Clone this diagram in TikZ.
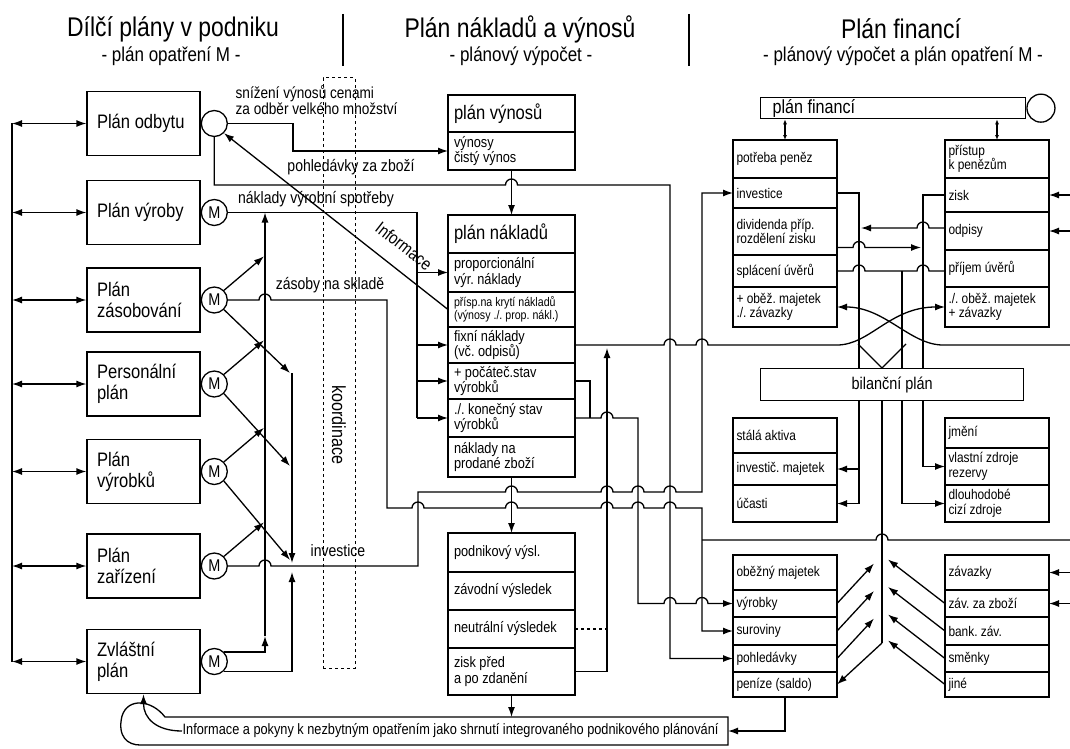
\documentclass[tikz,border=0pt]{standalone}
\usepackage{fontspec}
\setmainfont{Liberation Sans}[FakeStretch=0.85]
\usetikzlibrary{positioning,arrows.meta,calc}
\frenchspacing

\newcommand{\hdfont}{\fontsize{27}{29}\selectfont}
\newcommand{\subhdfont}{\fontsize{20}{22}\selectfont}
\newcommand{\planfont}{\fontsize{19.5}{21}\selectfont}
\newcommand{\mfont}{\fontsize{17}{17}\selectfont}
\newcommand{\boxhdfont}{\fontsize{19.5}{19.5}\selectfont}
\newcommand{\cellfont}{\fontsize{15}{15.5}\selectfont}
\newcommand{\smallcellfont}{\fontsize{12.5}{13.5}\selectfont}
\newcommand{\finfont}{\fontsize{14}{14.5}\selectfont}
\newcommand{\notefont}{\fontsize{16.5}{16}\selectfont}
\newcommand{\infofont}{\fontsize{15}{15}\selectfont}

\begin{document}
\begin{tikzpicture}[x=1pt, y=-1pt, line width=1.3pt,
    >={Latex[length=10pt,width=7pt]},
    plan/.style={draw, minimum width=113pt, minimum height=64pt, text width=93pt, inner xsep=10pt, align=flush left, font=\planfont},
    mcirc/.style={draw, circle, minimum size=26pt, inner sep=0pt, font=\mfont},
    cell/.style={draw, outer sep=0pt, inner ysep=1pt, align=flush left},
    midcell/.style={cell, text width=115pt, inner xsep=6pt, font=\cellfont},
    fincell/.style={cell, text width=97pt, inner xsep=3.5pt, font=\finfont},
    note/.style={inner sep=1pt, font=\notefont},
    hop/.style={insert path={arc[start angle=180,end angle=360,radius=6]}},
    hopl/.style={insert path={arc[start angle=0,end angle=-180,radius=6]}}]
    \useasboundingbox (0,0) rectangle (1070,749);

    % headings
    \node[font=\hdfont] (hPodnik) at (173,29) {Dílčí plány v podniku};
    \node[font=\subhdfont] (sPodnik) at (171,56) {- plán opatření M -};
    \node[font=\hdfont] (hNaklady) at (520,29) {Plán nákladů a výnosů};
    \node[font=\subhdfont] (sNaklady) at (521,56) {- plánový výpočet -};
    \node[font=\hdfont] (hFinance) at (901,29) {Plán financí};
    \node[font=\subhdfont] (sFinance) at (903,56) {- plánový výpočet a plán opatření M -};
    \draw (343,14) -- (343,66);
    \draw (689,14) -- (689,66);

    % coordination strip
    \node[draw, dashed, line width=1pt, minimum width=32pt, minimum height=590pt] (koord) at (339,373) {};
    \node[rotate=-90, font=\fontsize{19}{19}\selectfont] (lblKoord) at (339,425) {koordinace};

    % partial plans
    \node[plan] (odbyt) at (143.5,123.5) {Plán odbytu};
    \node[plan] (vyroby) at (143.5,212.5) {Plán výroby};
    \node[plan] (zasob) at (143.5,300) {Plán\\zásobování};
    \node[plan] (pers) at (143.5,384) {Personální\\plán};
    \node[plan] (vyrobku) at (143.5,471.5) {Plán\\výrobků};
    \node[plan] (zariz) at (143.5,566) {Plán\\zařízení};
    \node[plan] (zvl) at (143.5,661.5) {Zvláštní\\plán};
    \node[mcirc, right=0pt of odbyt] (cOdbyt) {};
    \node[mcirc, right=0pt of vyroby] (mVyroby) {M};
    \node[mcirc, right=0pt of zasob] (mZasob) {M};
    \node[mcirc, right=0pt of pers] (mPers) {M};
    \node[mcirc, right=0pt of vyrobku] (mVyrobku) {M};
    \node[mcirc, right=0pt of zariz] (mZariz) {M};
    \node[mcirc, right=0pt of zvl] (mZvl) {M};

    \coordinate (bus) at (12,0);
    \coordinate (vx) at (265,0);
    \coordinate (dx) at (292,0);
    \coordinate (sp) at (417,0);
    \draw (odbyt.west -| bus) -- (zvl.west -| bus);
    \foreach \p in {odbyt,vyroby,zasob,pers,vyrobku,zariz,zvl}
      \draw[<->] (\p.west -| bus) -- (\p.west);

    % cost and revenue plan
    \node[midcell, font=\boxhdfont, minimum height=37pt, anchor=north west] (pvyn) at (448,95) {plán výnosů};
    \node[midcell, minimum height=38pt, below=0pt of pvyn] (vynosy) {výnosy\\čistý výnos};
    \node[midcell, font=\boxhdfont, minimum height=38pt, anchor=north west] (pnakl) at (448,215) {plán nákladů};
    \node[midcell, minimum height=39pt, below=0pt of pnakl] (prop) {proporcionální\\výr. náklady};
    \node[midcell, font=\smallcellfont, minimum height=35pt, below=0pt of prop] (prisp) {přísp.na krytí nákladů\\(výnosy ./. prop. nákl.)};
    \node[midcell, minimum height=36pt, below=0pt of prisp] (fixni) {fixní náklady\\(vč. odpisů)};
    \node[midcell, minimum height=36pt, below=0pt of fixni] (pocat) {+ počáteč.stav\\výrobků};
    \node[midcell, minimum height=38pt, below=0pt of pocat] (konec) {./. konečný stav\\výrobků};
    \node[midcell, minimum height=40pt, below=0pt of konec] (prodane) {náklady na\\prodané zboží};
    \node[midcell, minimum height=39pt, anchor=north west] (podnik) at (448,533) {podnikový výsl.};
    \node[midcell, minimum height=38pt, below=0pt of podnik] (zavod) {závodní výsledek};
    \node[midcell, minimum height=38pt, below=0pt of zavod] (neutr) {neutrální výsledek};
    \node[midcell, minimum height=47pt, below=0pt of neutr] (zpred) {zisk před\\a po zdanění};

    % financial plan
    \node[draw, minimum width=265pt, minimum height=21pt, inner ysep=0pt, inner xsep=12pt, text width=241pt, align=flush left, font=\fontsize{19}{19}\selectfont, anchor=north west] (pf) at (760,97) {plán financí};
    \node[draw, circle, minimum size=28pt, inner sep=0pt, right=0pt of pf] (cPf) {};
    \node[fincell, minimum height=38pt, anchor=north west] (potreba) at (733,140) {potřeba peněz};
    \node[fincell, minimum height=30pt, below=0pt of potreba] (inv) {investice};
    \node[fincell, minimum height=47pt, below=0pt of inv] (divid) {dividenda příp.\\rozdělení zisku};
    \node[fincell, minimum height=32pt, below=0pt of divid] (splac) {splácení úvěrů};
    \node[fincell, minimum height=40pt, below=0pt of splac] (oPlus) {+ oběž. majetek\\./. závazky};
    \node[fincell, minimum height=38pt, anchor=north west] (pristup) at (945,140) {přístup\\k penězům};
    \node[fincell, minimum height=34pt, below=0pt of pristup] (zisk) {zisk};
    \node[fincell, minimum height=38pt, below=0pt of zisk] (odpisy) {odpisy};
    \node[fincell, minimum height=37pt, below=0pt of odpisy] (prijem) {příjem úvěrů};
    \node[fincell, minimum height=40pt, below=0pt of prijem] (oMinus) {./. oběž. majetek\\+ závazky};

    \node[fincell, minimum height=35pt, anchor=north west] (stala) at (733,418) {stálá aktiva};
    \node[fincell, minimum height=32pt, below=0pt of stala] (invmaj) {investič. majetek};
    \node[fincell, minimum height=37pt, below=0pt of invmaj] (ucast) {účasti};
    \node[fincell, minimum height=30pt, anchor=north west] (jmeni) at (945,418) {jmění};
    \node[fincell, minimum height=37pt, below=0pt of jmeni] (vlast) {vlastní zdroje\\rezervy};
    \node[fincell, minimum height=37pt, below=0pt of vlast] (dlouh) {dlouhodobé\\cizí zdroje};

    \node[fincell, minimum height=35pt, anchor=north west] (obezny) at (733,555) {oběžný majetek};
    \node[fincell, minimum height=27pt, below=0pt of obezny] (vyrobky) {výrobky};
    \node[fincell, minimum height=28pt, below=0pt of vyrobky] (surov) {suroviny};
    \node[fincell, minimum height=27pt, below=0pt of surov] (pohl) {pohledávky};
    \node[fincell, minimum height=25pt, below=0pt of pohl] (penize) {peníze (saldo)};
    \node[fincell, minimum height=35pt, anchor=north west] (zavazky) at (945,555) {závazky};
    \node[fincell, minimum height=27pt, below=0pt of zavazky] (zavzb) {záv. za zboží};
    \node[fincell, minimum height=28pt, below=0pt of zavzb] (bank) {bank. záv.};
    \node[fincell, minimum height=27pt, below=0pt of bank] (smenky) {směnky};
    \node[fincell, minimum height=25pt, below=0pt of smenky] (jine) {jiné};

    % labels on the flows
    \node[note, anchor=north west, align=flush left, font=\fontsize{16}{15}\selectfont] (lblSniz) at (234,84) {snížení výnosů cenami\\za odběr velkého množství};
    \node[note] (lblPohl) at (351,167) {pohledávky za zboží};
    \node[note] (lblSpotr) at (316,199) {náklady výrobní spotřeby};
    \node[note] (lblZasoby) at (330,285) {zásoby na skladě};
    \node[note] (lblInvest) at (338,551) {investice};
    \node[note, rotate=-38, font=\fontsize{17.5}{17.5}\selectfont] (lblInfo) at (404,246) {Informace};

    % flows out of the partial plans
    \draw[->] (cOdbyt.east) -| (293,151) -- (vynosy.west);
    \draw[->] (cOdbyt.south) |- (505.5,185) [hop] -- (670,185) |- (pohl.west);
    \draw[<-] (cOdbyt.south east) -- (prisp.west);
    \draw (mVyroby.east) -| (konec.west -| sp);
    \foreach \c in {prop,fixni,pocat,konec}
      \draw[->] (\c.west -| sp) -- (\c.west);
    \draw[->] (mZvl.north east) -| (265,636);
    \draw[->] (265,636) -- (mVyroby.east -| vx);
    \foreach \m in {mZasob,mPers,mVyrobku,mZariz}
      \draw[->] (\m.north east) -- ++(40,-34);
    \foreach \m/\y in {mZasob/373,mPers/466,mVyrobku/560}
      \draw[->] (\m.south east) -- (290,\y);
    \draw[->] (292,373) -- (292,563);
    \draw[->] (mZvl.south east) -| (292,572);
    \draw[->] (mZariz.east) -- (259,566) [hop] -- (418,566) -- (418,492) -- (505.5,492) [hop]
      -- (601,492) [hop] -- (632,492) [hop] -- (664,492) [hop] -- (702,492) |- (inv.west);
    \draw[->] (mZasob.east) -- (259,300) [hop] -- (387,300) -- (387,508) -- (412,508) [hop]
      -- (505.5,508) [hop] -- (601,508) [hop] -- (632,508) [hop] -- (664,508) [hop] -- (702,508) |- (surov.west);
    \draw (702,540) -- (876,540) [hop] -- (1070,540);

    % inside the cost plan
    \draw[->] (vynosy.south) -- (pnakl.north);
    \draw[->] (prodane.south) -- (podnik.north);
    \draw[->] (zpred.east) -| (607,348);
    \draw[dashed] (neutr.east) -- ++(32,0);
    \draw (pocat.east) -| (590,418);
    \draw[->] (konec.east) -- (601,418) [hop] -- (638,418) -- (638,603.5) -- (664,603.5) [hop]
      -- (696,603.5) [hop] -- (vyrobky.west);
    \draw[->] (fixni.east) -- (664,345) [hop] -- (696,345) [hop] -- (837,345)
      .. controls (870,345) and (890,307) .. (oMinus.west);
    \draw[->] (1070,345) -- (943,345) .. controls (910,345) and (885,307) .. (oPlus.east);

    % inside the financial plan
    \coordinate (xi) at (859,0);
    \coordinate (xb) at (882,0);
    \coordinate (xu) at (902,0);
    \coordinate (xk) at (923,0);
    \coordinate (edge) at (1070,0);
    \draw[<->, >={Latex[length=5pt,width=4pt]}] (potreba.north |- pf.south) -- (potreba.north);
    \draw[<->, >={Latex[length=5pt,width=4pt]}] (pristup.north |- pf.south) -- (pristup.north);
    \draw[->] (inv.east) -| (xi |- ucast.east) -- (ucast.east);
    \draw[->] (xi |- invmaj.east) -- (invmaj.east);
    \draw[->] ($(odpisy.west)+(0,-3)$) -- (929,228) [hopl] -- (861,228);
    \draw[->] ($(divid.east)+(0,16)$) -- (853,247.5) [hop] -- (921,247.5);
    \draw (splac.east) -- (853,271) [hop] -- (917,271) [hop] -- (prijem.west |- splac.east);
    \draw[->] (xu |- splac.east) |- (dlouh.west);
    \draw[->] (zisk.west) -| (xk |- vlast.west) -- (vlast.west);
    \foreach \c in {zisk,odpisy,zavazky,zavzb}
      \draw[->] (\c.east -| edge) -- (\c.east);
    \node[draw, fill=white, minimum width=263pt, minimum height=32pt, font=\fontsize{17}{17}\selectfont, anchor=north west] (bil) at (760,368) {bilanční plán};
    \draw (xb |- bil.north) -- (858,344);
    \draw (xb |- bil.north) -- (906,344);
    \draw (xb |- bil.south) -- (882,643);
    \draw[->] (882,643) -- (penize.east);
    \foreach \c in {vyrobky,surov,pohl}
      \draw[->] (\c.east) -- ++(37,-40);
    \foreach \c in {zavzb,bank,smenky,jine}
      \draw[->] (\c.west) -- ++(-57,-44);

    % closing loop back to the partial plans
    \coordinate (infoNW) at (165,717);
    \coordinate (infoNE) at (728,717);
    \coordinate (infoSE) at (728,745);
    \coordinate (infoSW) at (140,745);
    \node[inner sep=0pt, anchor=west, font=\infofont] (info) at (182,731) {Informace a pokyny k nezbytným opatřením jako shrnutí integrovaného podnikového plánování};
    \draw (infoNE) -- (infoNW) .. controls (152,700) and (128,697) .. (122,716)
      .. controls (117,737) and (128,745) .. (infoSW) -- (infoSE) -- cycle;
    \draw[->] (info.west) .. controls (156,731) and (143.5,718) .. (zvl.south);
    \draw[->] (zpred.south) -- (zpred.south |- infoNE);
    \draw[->] (penize.south) |- (728,731);
  \end{tikzpicture}
\end{document}
